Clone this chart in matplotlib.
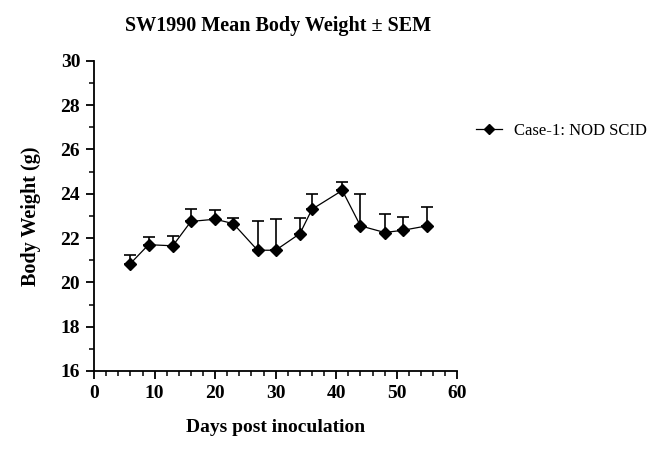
import matplotlib
matplotlib.use('Agg')
import matplotlib.pyplot as plt
from matplotlib.lines import Line2D
from matplotlib.ticker import MultipleLocator

plt.rcParams['font.family'] = ['Liberation Serif', 'DejaVu Serif']

days = [6, 9, 13, 16, 20, 23, 27, 30, 34, 36, 41, 44, 48, 51, 55]
mean_weight = [20.85, 21.7, 21.65, 22.75, 22.85, 22.65, 21.45, 21.45, 22.2, 23.3, 24.15, 22.55, 22.25, 22.35, 22.55]
sem = [0.4, 0.35, 0.45, 0.55, 0.4, 0.25, 1.3, 1.4, 0.7, 0.7, 0.4, 1.45, 0.85, 0.6, 0.85]
series_label = 'Case-1: NOD SCID'

fig = plt.figure(figsize=(6.58, 4.75), dpi=100)
ax = fig.add_axes([0.143, 0.219, 0.552, 0.653])

ax.errorbar(days, mean_weight, yerr=[[0] * len(sem), sem], color='black',
            linewidth=0.9, elinewidth=1.2, capsize=4, capthick=1.2,
            marker='D', markersize=6)

ax.set_xlim(0, 60)
ax.set_ylim(16, 30)
ax.xaxis.set_major_locator(MultipleLocator(10))
ax.xaxis.set_minor_locator(MultipleLocator(2))
ax.yaxis.set_major_locator(MultipleLocator(2))
ax.yaxis.set_minor_locator(MultipleLocator(1))

for side in ['top', 'right']:
    ax.spines[side].set_visible(False)
for side in ['left', 'bottom']:
    ax.spines[side].set_linewidth(1.3)
ax.tick_params(which='major', length=6, width=1.3, labelsize=14, pad=4)
ax.tick_params(which='minor', length=3.5, width=1.1)
for lbl in ax.get_xticklabels() + ax.get_yticklabels():
    lbl.set_fontweight('bold')

ax.set_xlabel('Days post inoculation', fontsize=14, fontweight='bold', labelpad=12)
ax.set_ylabel('Body Weight (g)', fontsize=14.5, fontweight='bold', labelpad=14)
fig.text(0.423, 0.945, 'SW1990 Mean Body Weight \u00b1 SEM', ha='center', va='center',
         fontsize=14.5, fontweight='bold')

handle = Line2D([], [], color='black', linewidth=0.9, marker='D', markersize=5)
ax.legend([handle], [series_label], loc='center left', bbox_to_anchor=(0.70, 0.724),
          bbox_transform=fig.transFigure, frameon=False, fontsize=12,
          handlelength=1.6, handletextpad=0.7)

fig.savefig('out.png', dpi=100)
